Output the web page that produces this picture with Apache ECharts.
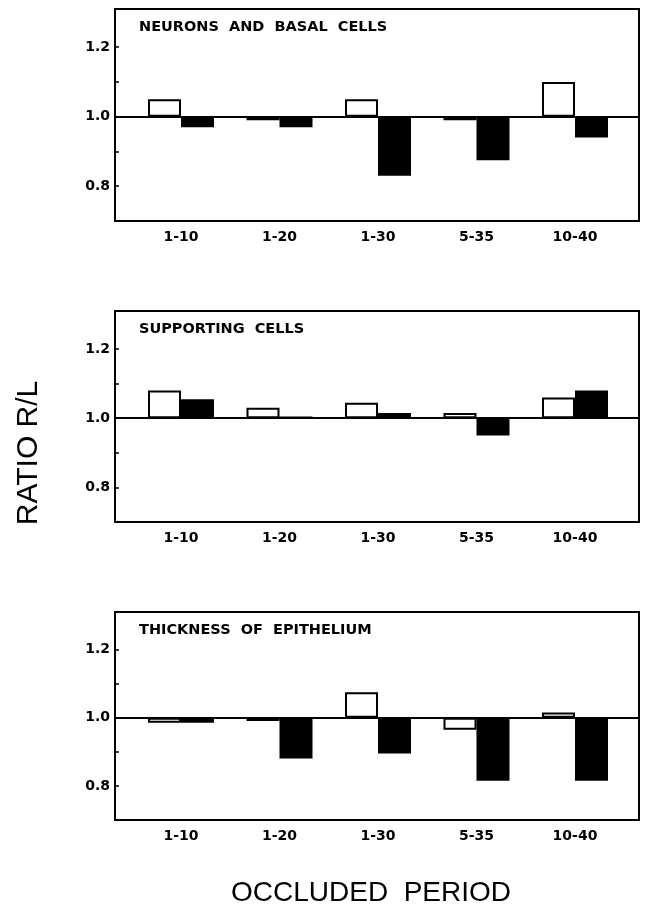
<!DOCTYPE html>
<html>
<head>
<meta charset="utf-8">
<script src="https://cdn.jsdelivr.net/npm/echarts@6/dist/echarts.min.js"></script>
<style>
  html, body { margin: 0; padding: 0; background: #fff; }
  #main { width: 646px; height: 913px; }
</style>
</head>
<body>
<div id="main"></div>
<script>
// occluded periods (x categories)
var periods = ['1-10', '1-20', '1-30', '5-35', '10-40'];
var panelTitles = ['NEURONS  AND  BASAL  CELLS', 'SUPPORTING  CELLS', 'THICKNESS  OF  EPITHELIUM'];

// ratio R/L, open (white) and solid (black) bars
var neuronsOpen  = [1.05, 0.99, 1.05, 0.99, 1.10];
var neuronsSolid = [0.97, 0.97, 0.83, 0.875, 0.94];
var supportOpen  = [1.08, 1.03, 1.045, 1.015, 1.06];
var supportSolid = [1.055, 1.005, 1.015, 0.95, 1.08];
var thickOpen    = [0.985, 0.99, 1.075, 0.965, 1.015];
var thickSolid   = [0.985, 0.88, 0.895, 0.815, 0.815];

// y ticks
var yTickValues  = [0.8, 0.9, 1.0, 1.1, 1.2];
var yLabelValues = [0.8, 1.0, 1.2];
var baseline = 1.0;
var yMin = 0.7, yMax = 1.31;

var openSets  = [neuronsOpen, supportOpen, thickOpen];
var solidSets = [neuronsSolid, supportSolid, thickSolid];

var myChart = echarts.init(document.getElementById('main'));

var labelFont = 'DejaVu Sans';
var tops = [9, 311, 612];
var heights = [212, 211, 208];
var frameLeft = 115, frameWidth = 524;
var dataLeft = 131.75, dataWidth = 492.5;

function rel(v) { return +(v - baseline).toFixed(4); }

var grids = [], xAxes = [], yAxes = [], series = [], titles = [];

for (var i = 0; i < 3; i++) {
	var f = 2 * i, d = 2 * i + 1;
	// frame grid: box, y axis, line at 1.0
	grids.push({
		left: frameLeft, top: tops[i], width: frameWidth, height: heights[i],
		show: true, borderColor: '#000', borderWidth: 2, backgroundColor: 'transparent'
	});
	// data grid: bars and category labels
	grids.push({
		left: dataLeft, top: tops[i], width: dataWidth, height: heights[i]
	});

	xAxes.push({
		gridIndex: f, type: 'category', data: periods, z: 10,
		axisLabel: { show: false }, axisTick: { show: false },
		axisLine: { onZero: true, lineStyle: { color: '#000', width: 2 } }
	});
	xAxes.push({
		gridIndex: d, type: 'category', data: periods,
		axisLine: { show: false }, axisTick: { show: false },
		axisLabel: { color: '#000', fontFamily: labelFont, fontWeight: 'bold', fontSize: 14, margin: 9 }
	});

	yAxes.push({
		gridIndex: f, type: 'value', min: rel(yMin), max: rel(yMax),
		splitLine: { show: false },
		axisLine: { show: true, lineStyle: { color: '#000', width: 2 } },
		axisTick: { show: true, inside: true, length: 4, lineStyle: { color: '#000', width: 1.5 },
			customValues: yTickValues.map(rel) },
		axisLabel: { color: '#000', fontFamily: labelFont, fontWeight: 'bold', fontSize: 14, margin: 5,
			customValues: yLabelValues.map(rel),
			formatter: function(v) { return (v + baseline).toFixed(1); } }
	});
	yAxes.push({
		gridIndex: d, type: 'value', min: rel(yMin), max: rel(yMax), show: false
	});

	series.push({
		type: 'bar', xAxisIndex: d, yAxisIndex: d,
		data: openSets[i].map(rel),
		barWidth: 33, barGap: '0%',
		itemStyle: { color: '#fff', borderColor: '#000', borderWidth: 2 }
	});
	series.push({
		type: 'bar', xAxisIndex: d, yAxisIndex: d,
		data: solidSets[i].map(rel),
		barWidth: 33, barGap: '0%',
		itemStyle: { color: '#000' }
	});

	titles.push({
		text: panelTitles[i], left: 139, top: tops[i] + 11, padding: 0,
		textStyle: { color: '#000', fontFamily: labelFont, fontWeight: 'bold', fontSize: 14.5 }
	});
}

var option = {
	animation: false,
	backgroundColor: '#fff',
	title: titles,
	grid: grids,
	xAxis: xAxes,
	yAxis: yAxes,
	series: series,
	graphic: [
		{
			type: 'text', x: 29, y: 453, rotation: Math.PI / 2,
			style: { text: 'RATIO R/L', fill: '#000', font: '30px "Liberation Sans"',
				textAlign: 'center', textVerticalAlign: 'middle' }
		},
		{
			type: 'text', x: 371, y: 893,
			style: { text: 'OCCLUDED  PERIOD', fill: '#000', font: '28px "Liberation Sans"',
				textAlign: 'center', textVerticalAlign: 'middle' }
		}
	]
};

myChart.setOption(option);
</script>
</body>
</html>
